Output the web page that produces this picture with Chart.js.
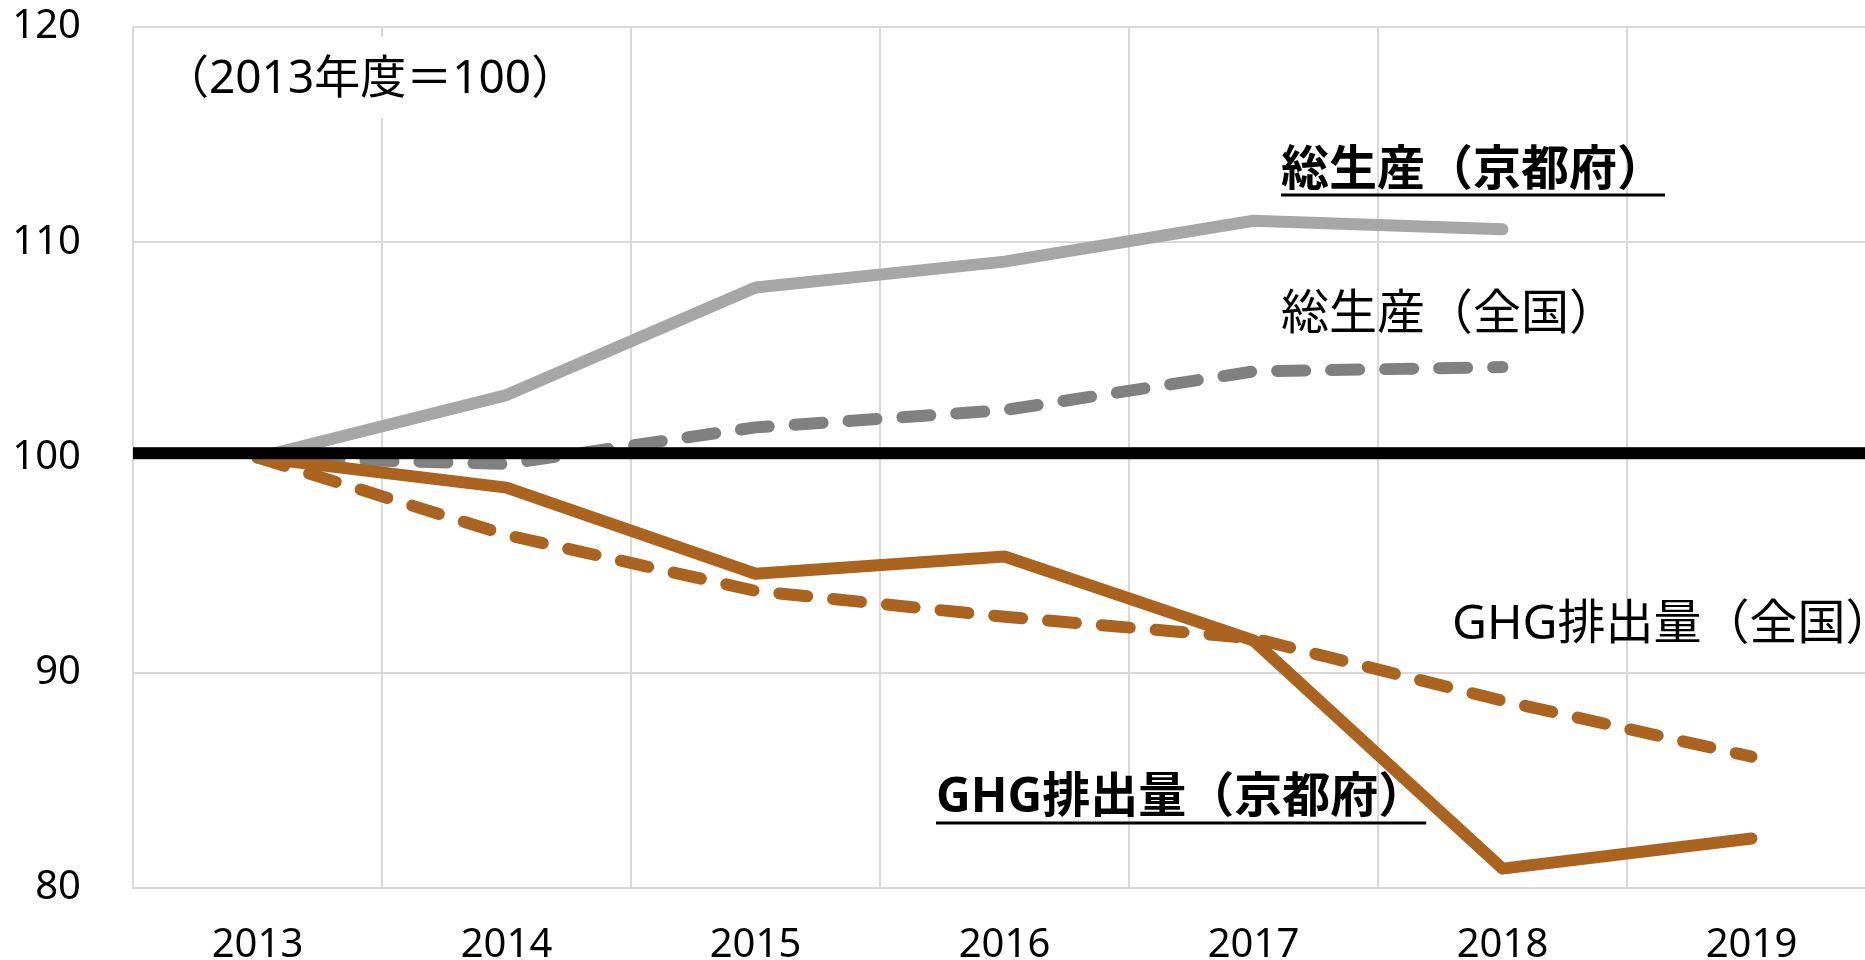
<!DOCTYPE html>
<html><head><meta charset="utf-8">
<script src="https://cdn.jsdelivr.net/npm/chart.js@4/dist/chart.umd.min.js"></script>
<style>
html,body{margin:0;padding:0;background:#fff;overflow:hidden;width:1865px;height:960px;}
#wrap{position:absolute;left:0;top:0;width:1876px;height:960px;}
canvas{display:block;}
</style></head><body>
<div id="wrap"><canvas id="c" width="1876" height="960" style="width:1876px;height:960px"></canvas></div>
<script>
// ---- data ----
const years = ['2013', '2014', '2015', '2016', '2017', '2018', '2019'];
const gdpKyoto = [100, 102.9, 107.9, 109.1, 111.0, 110.6, null];
const gdpJapan = [100, 99.7, 101.4, 102.2, 104.0, 104.2, null];
const ghgKyoto = [100, 98.6, 94.6, 95.4, 91.5, 80.9, 82.3];
const ghgJapan = [100, 96.4, 93.8, 92.6, 91.6, 88.7, 86.1];
const baseLineValue = 100.2;
const yTicks = [80, 90, 100, 110, 120];
const noteText = '（2013年度＝100）';
const seriesNames = ['総生産（京都府）', '総生産（全国）', 'GHG排出量（京都府）', 'GHG排出量（全国）'];

const FONT = "'Noto Sans', 'Noto Sans CJK JP', sans-serif";
const GRID = '#D9D9D9';
const BROWN = '#AA6420';

const annotate = {
  id: 'annotate',
  beforeDatasetsDraw(chart) {
    const ctx = chart.ctx;
    ctx.save();
    ctx.fillStyle = '#fff';
    ctx.fillRect(160, 37, 400, 81);
    ctx.fillStyle = '#000';
    ctx.textAlign = 'left';
    ctx.textBaseline = 'middle';
    ctx.font = `46px ${FONT}`;
    ctx.fillText(noteText, 163, 80);
    ctx.restore();
  },
  afterDatasetsDraw(chart) {
    const {ctx, chartArea, scales} = chart;
    const py = scales.y.getPixelForValue(baseLineValue);
    ctx.save();
    ctx.fillStyle = '#000';
    ctx.fillRect(chartArea.left, py - 6, chartArea.right - chartArea.left, 12);
    const items = [
      {t: seriesNames[0], x: 1281, y: 171, bold: true, ul: 195},
      {t: seriesNames[1], x: 1281, y: 315, bold: false},
      {t: seriesNames[3], x: 1452, y: 625, bold: false},
      {t: seriesNames[2], x: 936, y: 798, bold: true, ul: 823},
    ];
    ctx.textAlign = 'left';
    ctx.textBaseline = 'middle';
    items.forEach(it => {
      ctx.font = `${it.bold ? 'bold ' : ''}48px ${FONT}`;
      ctx.fillStyle = '#000';
      ctx.fillText(it.t, it.x, it.y);
      if (it.ul) {
        const w = ctx.measureText(it.t).width;
        ctx.fillRect(it.x, it.ul - 1.5, w, 3);
      }
    });
    ctx.restore();
  }
};

const common = {pointRadius: 0, pointHoverRadius: 0, tension: 0, fill: false,
  borderWidth: 12, borderCapStyle: 'round', borderJoinStyle: 'round', spanGaps: false};

new Chart(document.getElementById('c'), {
  type: 'line',
  data: {
    labels: years,
    datasets: [
      Object.assign({label: seriesNames[2], data: ghgKyoto, borderColor: BROWN}, common),
      Object.assign({label: seriesNames[0], data: gdpKyoto, borderColor: '#A6A6A6'}, common),
      Object.assign({label: seriesNames[3], data: ghgJapan, borderColor: BROWN, borderDash: [28, 26]}, common),
      Object.assign({label: seriesNames[1], data: gdpJapan, borderColor: '#808080', borderDash: [28, 26]}, common),
    ]
  },
  options: {
    responsive: false,
    animation: false,
    devicePixelRatio: 1,
    layout: {padding: {top: 27, left: 0, right: 0, bottom: 0}},
    plugins: {legend: {display: false}, tooltip: {enabled: false}},
    scales: {
      x: {
        type: 'category',
        offset: true,
        grid: {offset: true, color: GRID, lineWidth: 2, drawTicks: false},
        border: {color: GRID, width: 2},
        ticks: {color: '#000', font: {family: FONT, size: 40}, padding: 34, maxRotation: 0, autoSkip: false},
        afterFit(s) { s.height = 72; s.paddingLeft = 0; s.paddingRight = 0; }
      },
      y: {
        min: yTicks[0], max: yTicks[yTicks.length - 1],
        afterBuildTicks(s) { s.ticks = yTicks.map(v => ({value: v})); },
        grid: {color: GRID, lineWidth: 2, drawTicks: false},
        border: {color: GRID, width: 2},
        ticks: {color: '#000', font: {family: FONT, size: 40}, padding: 52},
        afterFit(s) { s.width = 133; s.paddingTop = 0; s.paddingBottom = 0; }
      }
    }
  },
  plugins: [annotate]
});
</script>
</body></html>
